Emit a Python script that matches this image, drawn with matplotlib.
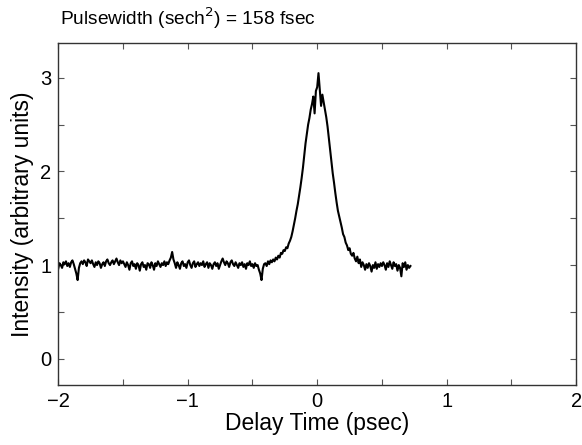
import numpy as np
import matplotlib
matplotlib.use("Agg")
import matplotlib.pyplot as plt
from matplotlib.ticker import MultipleLocator

plt.rcParams['font.family'] = ['Liberation Sans', 'DejaVu Sans']

# autocorrelation trace, sampled every 10 fs from -2.00 to 0.72 psec
t_start = -2.0
t_step = 0.01

intensity_baseline = [
    0.96, 1.02, 1.00, 0.97, 1.03, 1.01, 1.04, 0.99, 1.02, 0.98,   # -2.00
    1.03, 1.05, 1.01, 0.96, 0.91, 0.84, 0.97, 1.02, 1.04, 1.01,   # -1.90
    1.05, 1.03, 0.99, 1.06, 1.04, 1.02, 1.05, 1.01, 0.98, 1.03,   # -1.80
    1.00, 1.04, 1.02, 0.97, 1.01, 1.03, 0.99, 1.04, 1.06, 1.02,   # -1.70
    1.00, 1.03, 1.05, 1.01, 1.04, 1.07, 1.03, 1.00, 1.05, 1.02,   # -1.60
    1.04, 1.01, 0.98, 1.03, 1.00, 0.95, 1.02, 1.04, 0.99, 1.01,   # -1.50
    0.96, 1.02, 1.00, 0.94, 1.01, 1.03, 0.98, 1.00, 0.95, 1.02,   # -1.40
    1.01, 0.97, 1.03, 1.00, 0.95, 1.02, 0.99, 1.04, 1.01, 0.98,   # -1.30
    1.02, 1.00, 1.04, 0.99, 1.03, 1.01, 1.05, 1.08, 1.14, 1.06,   # -1.20
    1.02, 0.97, 1.03, 1.00, 0.96, 1.02, 1.04, 0.99, 1.01, 0.97,   # -1.10
    1.03, 1.05, 1.00, 0.97, 1.02, 1.04, 0.98, 1.01, 1.03, 0.99,   # -1.00
    1.02, 1.00, 1.04, 0.98, 1.01, 1.03, 0.97, 1.02, 1.00, 0.96,   # -0.90
    1.01, 1.03, 0.99, 1.02, 0.96, 1.00, 1.04, 1.07, 1.03, 1.00,   # -0.80
    1.04, 1.02, 0.98, 1.03, 1.05, 1.01, 0.99, 1.03, 1.00, 0.97,   # -0.70
    1.02, 1.00, 1.03, 0.98, 1.01, 0.96, 1.02, 1.00, 1.04, 0.99,   # -0.60
    1.01, 0.97, 1.02, 0.99, 1.00, 0.95, 0.91, 0.84, 0.96, 1.01,   # -0.50
]

intensity_peak = [
    1.02, 0.99, 1.04, 1.01, 1.05, 1.03, 1.06, 1.04, 1.08, 1.06,   # -0.40
    1.10, 1.08, 1.13, 1.12, 1.16, 1.15, 1.19, 1.18, 1.23, 1.26,   # -0.30
    1.30, 1.36, 1.43, 1.50, 1.58, 1.65, 1.74, 1.83, 1.93, 2.04,   # -0.20
    2.17, 2.30, 2.40, 2.50, 2.57, 2.66, 2.72, 2.80, 2.62, 2.86,   # -0.10
    2.90, 3.05, 2.88, 2.70, 2.82, 2.74, 2.66, 2.58, 2.48, 2.36,   #  0.00
    2.23, 2.10, 1.98, 1.88, 1.77, 1.67, 1.58, 1.52, 1.46, 1.40,   #  0.10
    1.33, 1.30, 1.24, 1.21, 1.16, 1.18, 1.12, 1.10, 1.13, 1.07,   #  0.20
]

intensity_tail = [
    1.04, 1.09, 1.02, 1.06, 0.98, 1.03, 1.00, 0.95, 1.01, 0.97,   #  0.30
    1.02, 0.99, 0.93, 1.00, 0.97, 1.03, 0.96, 1.01, 0.98, 1.02,   #  0.40
    0.99, 1.03, 1.00, 0.95, 1.02, 0.98, 1.04, 1.00, 0.96, 1.03,   #  0.50
    0.99, 1.01, 0.94, 1.00, 0.97, 0.88, 1.02, 0.98, 1.03, 0.95,   #  0.60
    1.00, 0.97, 0.99,                                             #  0.70
]

intensity = np.array(intensity_baseline + intensity_peak + intensity_tail)
delay = t_start + t_step * np.arange(len(intensity))

fig = plt.figure(figsize=(5.82, 4.45), dpi=100)
ax = fig.add_axes([0.1, 0.135, 0.89, 0.768])

ax.plot(delay, intensity, color='black', lw=1.5)

ax.set_xlim(-2, 2)
ax.set_ylim(-0.28, 3.37)
ax.xaxis.set_major_locator(MultipleLocator(1))
ax.xaxis.set_minor_locator(MultipleLocator(0.5))
ax.yaxis.set_major_locator(MultipleLocator(1))
ax.yaxis.set_minor_locator(MultipleLocator(0.5))
ax.tick_params(which='both', direction='in', length=4, width=0.8,
               top=True, right=True, color='#555555', labelsize=14.5, pad=5)
for sp in ax.spines.values():
    sp.set_color('#333333')
    sp.set_linewidth(1.0)

ax.set_xlabel('Delay Time (psec)', fontsize=16.5, labelpad=1)
ax.set_ylabel('Intensity (arbitrary units)', fontsize=16.5, labelpad=4)
fig.text(0.103, 0.958, 'Pulsewidth (sech$^2$) = 158 fsec', fontsize=13.8,
         ha='left', va='center')

fig.savefig('out.png', dpi=100)
